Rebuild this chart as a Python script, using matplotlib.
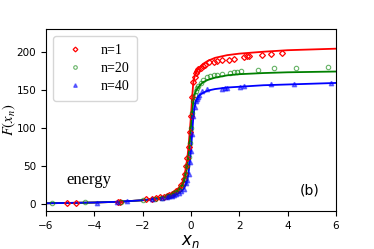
import matplotlib
matplotlib.use("Agg")
import matplotlib.pyplot as plt

# ---- line data ----
x_line = [-6, -5, -4, -3, -2, -1.5, -1, -0.8, -0.6, -0.5, -0.4, -0.3, -0.25, -0.2, -0.15,
          -0.1, -0.05, 0, 0.05, 0.1, 0.15, 0.2, 0.25, 0.3, 0.4, 0.5, 0.7, 1, 1.5, 2, 3, 4, 5, 6]
red_line = [1, 1.5, 2, 3, 5, 7, 10, 13, 17, 20, 25, 33, 40, 50, 60, 75, 95, 115, 140, 160,
            167, 172, 175, 178, 181, 184, 188, 192, 195.5, 197.5, 200, 202, 203, 204]
green_line = [1, 1.5, 2, 3, 5, 7, 10, 12, 16, 18, 22, 28, 33, 40, 50, 62, 80, 100, 120, 135,
              143, 148, 151, 153, 157, 160, 163, 166, 169, 170.5, 172, 173, 173.5, 174]
blue_line = [1, 1.5, 2, 3, 5, 6.5, 9, 11, 13, 15, 17, 20, 23, 27, 32, 40, 55, 70, 92, 115,
             127, 135, 138, 141, 144, 146, 149, 151, 153, 154, 156, 157, 158, 159]

# ---- marker data ----
red_x = [-5.15, -4.75, -3.0, -2.95, -1.85, -1.6, -1.45, -1.3, -1.1, -1.0, -0.9, -0.8, -0.7,
         -0.6, -0.5, -0.4, -0.3, -0.25, -0.2, -0.15, -0.1, -0.05, 0, 0.05, 0.1, 0.15, 0.2,
         0.25, 0.3, 0.4, 0.5, 0.6, 0.73, 0.94, 1.1, 1.28, 1.56, 1.79, 2.21, 2.32, 2.39,
         2.93, 3.31, 3.79]
red_y = [1, 2, 2.5, 3, 6, 7, 8, 9, 9.5, 10, 12, 13, 15, 17, 20, 25, 33, 40, 50, 60, 75, 95,
         115, 140, 160, 167, 172, 175, 177, 179, 181, 183, 186, 187, 188, 189, 189, 190,
         193, 194, 195, 196, 197, 198]

green_x = [-5.77, -4.39, -2.88, -1.98, -1.5, -1.2, -1.0, -0.9, -0.8, -0.7, -0.6, -0.5, -0.4,
           -0.3, -0.25, -0.2, -0.15, -0.1, -0.05, 0, 0.05, 0.1, 0.15, 0.2, 0.25, 0.3, 0.4,
           0.5, 0.66, 0.8, 0.94, 1.08, 1.28, 1.63, 1.77, 1.9, 2.08, 2.77, 3.45, 4.34, 5.67]
green_y = [1.3, 2.2, 2.2, 5, 7, 8, 10, 11, 12, 14, 16, 18, 22, 28, 33, 40, 50, 62, 80, 100,
           120, 135, 143, 148, 152, 155, 159, 163, 167, 168, 169, 169, 171, 172, 173, 174,
           175, 176, 178, 179, 180]

blue_x = [-3.9, -3.07, -2.66, -1.6, -1.2, -1.0, -0.9, -0.8, -0.7, -0.6, -0.5, -0.4, -0.3,
          -0.2, -0.15, -0.1, -0.05, 0, 0.05, 0.1, 0.15, 0.2, 0.25, 0.3, 0.35, 0.45, 0.66,
          1.28, 1.42, 1.49, 2.04, 2.18, 3.31, 4.27, 5.79]
blue_y = [2, 3, 3.5, 6, 8, 9, 10, 11, 12, 13, 15, 17, 20, 27, 32, 40, 55, 70, 92, 115, 127,
          135, 138, 141, 143, 149, 151, 151, 152, 153, 154, 155, 157, 158, 159]

labels = ["n=1", "n=20", "n=40"]

fig = plt.figure(figsize=(3.74, 2.49), dpi=100)
ax = fig.add_axes([0.123, 0.153, 0.775, 0.731])

ax.plot(x_line, red_line, color="red", lw=1.3, zorder=2)
ax.plot(red_x, red_y, ls="none", marker="D", ms=3, mfc="none", mec="red", mew=0.9,
        label=labels[0], zorder=3)
ax.plot(x_line, green_line, color="green", lw=1.3, zorder=2)
ax.plot(green_x, green_y, ls="none", marker="o", ms=3.2, mfc="none", mec="green", mew=0.8,
        alpha=0.6, label=labels[1], zorder=3)
ax.plot(x_line, blue_line, color="blue", lw=1.3, zorder=2)
ax.plot(blue_x, blue_y, ls="none", marker="^", ms=3.2, color="blue", alpha=0.5,
        label=labels[2], zorder=3)

ax.set_xlim(-6, 6)
ax.set_ylim(-9, 230)
ax.set_xticks([-6, -4, -2, 0, 2, 4, 6])
ax.set_yticks([0, 50, 100, 150, 200])
ax.tick_params(labelsize=7.5, length=3.5, width=0.8)

ax.set_xlabel(r"$x_n$", fontsize=12, math_fontfamily="dejavusans", labelpad=1)
ax.set_ylabel(r"$F(x_n)$", fontsize=10.5, math_fontfamily="stix")
ax.yaxis.set_label_coords(-0.098, 0.5)

ax.text(-5.15, 26, "energy", family="Liberation Serif", fontsize=12)
ax.text(0.91, 0.11, "(b)", transform=ax.transAxes, ha="center", va="center", fontsize=10)

ax.legend(loc="upper left", prop={"family": "Liberation Serif", "size": 10},
          markerscale=0.8, labelspacing=0.35, borderpad=0.6)

fig.savefig("out.png", dpi=100)
